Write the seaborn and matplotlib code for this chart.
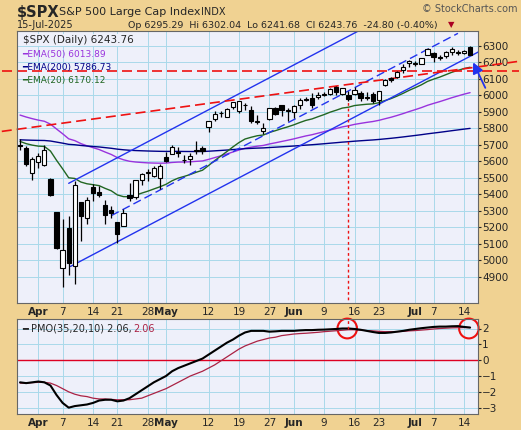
import matplotlib
matplotlib.use("Agg")
import matplotlib.pyplot as plt
import seaborn as sns
import pandas as pd
import numpy as np
from matplotlib.patches import Ellipse

dates = ["03-27","03-28","03-31","04-01","04-02","04-03","04-04","04-07","04-08","04-09","04-10","04-11",
 "04-14","04-15","04-16","04-17","04-21","04-22","04-23","04-24","04-25","04-28","04-29","04-30",
 "05-01","05-02","05-05","05-06","05-07","05-08","05-09","05-12","05-13","05-14","05-15","05-16",
 "05-19","05-20","05-21","05-22","05-23","05-27","05-28","05-29","05-30",
 "06-02","06-03","06-04","06-05","06-06","06-09","06-10","06-11","06-12","06-13","06-16","06-17","06-18","06-20",
 "06-23","06-24","06-25","06-26","06-27","06-30",
 "07-01","07-02","07-03","07-07","07-08","07-09","07-10","07-11","07-14","07-15"]
opens = [5695,5679,5527,5598,5580,5492,5292,4953,5194,4966,5353,5256,5441,5411,5335,5306,5232,5207,5395,5381,5489,
 5529,5508,5499,5625,5646,5656,5605,5614,5663,5679,5807,5854,5891,5869,5930,5903,5944,5910,5841,5782,5855,5925,5939,5904,
 5897,5939,5979,5985,5987,6004,6010,6050,6010,6000,6005,6013,5987,6005,5970,6062,6105,6109,6151,6193,
 6188,6191,6244,6259,6233,6237,6260,6255,6255,6295]
highs = [5732,5690,5627,5650,5696,5500,5292,5247,5267,5481,5353,5381,5459,5450,5367,5329,5232,5309,5469,5489,5528,
 5553,5572,5581,5659,5700,5684,5638,5651,5721,5691,5845,5906,5906,5924,5959,5968,5953,5938,5878,5829,5922,5930,5943,5922,
 5940,5982,5990,6016,6017,6021,6043,6059,6045,6026,6051,6024,6018,6019,6028,6101,6108,6145,6187,6215,
 6210,6227,6285,6262,6242,6266,6290,6272,6273,6302]
lows = [5670,5572,5489,5558,5574,5390,5069,4835,4910,4857,5116,5220,5358,5386,5221,5255,5101,5207,5356,5371,5455,
 5483,5506,5433,5597,5644,5628,5588,5578,5641,5644,5775,5846,5871,5867,5914,5895,5910,5830,5825,5767,5848,5880,5875,5844,
 5862,5919,5966,5921,5980,5994,6000,6002,6003,5963,6004,5968,5971,5953,5944,6055,6080,6102,6133,6174,
 6177,6187,6244,6201,6215,6229,6247,6245,6250,6242]
closes = [5693,5581,5612,5633,5671,5397,5074,5062,4982,5457,5268,5363,5406,5396,5276,5283,5158,5287,5376,5485,5525,
 5529,5561,5569,5604,5686,5650,5607,5631,5664,5660,5844,5886,5892,5917,5958,5964,5940,5845,5842,5802,5922,5889,5912,5912,
 5936,5970,5971,5939,6000,6006,6038,6022,6045,5977,6033,5982,5981,5967,6025,6092,6092,6141,6173,6205,
 6198,6227,6279,6230,6226,6263,6280,6260,6269,6244]
pmo = [-1.4,-1.45,-1.4,-1.35,-1.4,-1.6,-2.2,-2.7,-3.0,-2.9,-2.85,-2.8,-2.7,-2.55,-2.5,-2.5,-2.6,-2.55,-2.4,-2.15,-1.9,
 -1.65,-1.4,-1.2,-1.0,-0.7,-0.5,-0.35,-0.2,-0.05,0.1,0.35,0.6,0.85,1.1,1.3,1.55,1.75,1.85,1.85,1.85,1.8,1.82,1.85,1.85,
 1.85,1.88,1.9,1.9,1.92,1.93,1.95,1.97,2.0,2.0,1.97,1.92,1.85,1.78,1.72,1.72,1.75,1.8,1.85,1.92,
 1.97,2.02,2.06,2.1,2.12,2.12,2.14,2.15,2.1,2.06]
pmo_sig = [-1.45,-1.45,-1.42,-1.4,-1.4,-1.45,-1.6,-1.8,-2.0,-2.15,-2.25,-2.3,-2.4,-2.45,-2.45,-2.48,-2.5,-2.5,-2.5,-2.45,-2.4,
 -2.25,-2.1,-1.95,-1.8,-1.6,-1.4,-1.2,-1.0,-0.85,-0.7,-0.5,-0.3,-0.05,0.2,0.45,0.7,0.9,1.05,1.2,1.3,1.4,1.45,1.55,1.6,
 1.65,1.68,1.7,1.73,1.76,1.8,1.83,1.86,1.89,1.92,1.92,1.9,1.87,1.85,1.82,1.8,1.8,1.8,1.82,1.85,
 1.87,1.9,1.93,1.97,2.0,2.02,2.04,2.05,2.06,2.06]
tick_pos = [3,7,12,16,21,24,31,36,41,45,50,55,59,65,68,73]
tick_lab = ["Apr","7","14","21","28","May","12","19","27","Jun","9","16","23","Jul","7","14"]
bold_lab = {"Apr","May","Jun","Jul"}

df = pd.DataFrame({"i": np.arange(len(dates)), "o": opens, "h": highs, "l": lows, "c": closes,
                   "pmo": pmo, "sig": pmo_sig})
df["ema20"] = pd.Series([5720] + closes[1:]).ewm(span=20, adjust=False).mean()
df["ema50"] = pd.Series([5880] + closes[1:]).ewm(span=50, adjust=False).mean()
df["ema200"] = pd.Series([5730] + closes[1:]).ewm(span=200, adjust=False).mean()

sns.set_style("white")
plt.rcParams['font.family'] = ['DejaVu Sans']
BG = "#F0D292"; PANEL = "#EEF0FA"; GRID = "#A9D9EA"
fig = plt.figure(figsize=(5.21, 4.30), dpi=100, facecolor=BG)
W, H = 521, 430
ax = fig.add_axes([17/W, 1-303/H, (478-17)/W, (303-31)/H], facecolor=PANEL)
ax2 = fig.add_axes([17/W, 1-414/H, (478-17)/W, (414-319)/H], facecolor=PANEL)
XL = (-0.5, 75.3)

for a in (ax, ax2):
    a.set_xlim(*XL)
    a.set_xticks(tick_pos)
    a.set_xticklabels(tick_lab, fontsize=7.5)
    for t in a.get_xticklabels():
        if t.get_text() in bold_lab:
            t.set_fontweight("bold")
    a.grid(True, color=GRID, lw=0.7)
    a.yaxis.tick_right()
    a.tick_params(axis="both", length=2, pad=1, labelsize=7.5)
    for s in a.spines.values():
        s.set_color("#666666")

# candles
ax.vlines(df.i, df.l, df.h, color="black", lw=0.9, zorder=3)
up = df.c >= df.o
body = (df.c - df.o).abs().clip(lower=3)
ax.bar(df.i[up], body[up], bottom=df.o[up], width=0.7, color="white", edgecolor="black", lw=0.8, zorder=4)
ax.bar(df.i[~up], body[~up], bottom=df.c[~up], width=0.7, color="black", edgecolor="black", lw=0.8, zorder=4)

sns.lineplot(data=df, x="i", y="ema50", ax=ax, color="#9933DD", lw=1, zorder=2)
sns.lineplot(data=df, x="i", y="ema200", ax=ax, color="#000088", lw=1, zorder=2)
sns.lineplot(data=df, x="i", y="ema20", ax=ax, color="#226622", lw=1, zorder=2)

# annotation lines
ax.plot([8.3, 76], [4962, 4962 + 19.4*(76-8.3)], color="#2233EE", lw=1, zorder=2)
ax.plot([8, 57], [5466, 5466 + 19.4*49], color="#2233EE", lw=1, zorder=2)
ax.plot([15, 72], [5270, 5270 + 19.4*57], color="#2233EE", lw=1, ls=(0, (6, 3)), zorder=2)
ax.plot([-3, 82], [6149, 6149], color="#EE1111", lw=1.2, ls=(0, (6, 3)), clip_on=False, zorder=2)
ax.plot([-3, 82], [5781, 5781 + 5.0*85], color="#EE1111", lw=1.2, ls=(0, (6, 3)), clip_on=False, zorder=2)
ax.plot([54, 54], [5990, 4740], color="#EE1111", lw=1, ls=(0, (2, 2)), zorder=2)
ax.annotate("", xy=(74.3, 6215), xytext=(76.7, 6030), annotation_clip=False,
            arrowprops=dict(arrowstyle="-|>", color="#2233EE", lw=1.3, mutation_scale=16))

ax.set_ylim(4740, 6390)
ax.set_yticks(range(4900, 6301, 100))
ax.set_xlabel(""); ax.set_ylabel("")

ax.text(0.012, 0.985, "$SPX (Daily) 6243.76", transform=ax.transAxes, fontsize=7.5, va="top",
        bbox=dict(facecolor=PANEL, edgecolor="none", pad=0.5))
ax.text(0.012, 0.93, "━EMA(50) 6013.89", transform=ax.transAxes, fontsize=6.5, va="top", color="#9933DD")
ax.text(0.012, 0.883, "━EMA(200) 5786.73", transform=ax.transAxes, fontsize=6.5, va="top", color="#000088")
ax.text(0.012, 0.836, "━EMA(20) 6170.12", transform=ax.transAxes, fontsize=6.5, va="top", color="#226622")

# PMO
ax2.axhline(0, color="#DD0022", lw=1)
sns.lineplot(data=df, x="i", y="sig", ax=ax2, color="#AA2244", lw=0.9)
sns.lineplot(data=df, x="i", y="pmo", ax=ax2, color="black", lw=1.5)
ax2.plot([54, 54], [2.0, 2.6], color="#EE1111", lw=1, ls=(0, (2, 2)))
ax2.set_ylim(-3.4, 2.6)
ax2.set_yticks([-3, -2, -1, 0, 1, 2])
ax2.set_xlabel(""); ax2.set_ylabel("")
for cx in (53.8, 73.8):
    ax2.add_patch(Ellipse((cx, 2.0), 3.2, 1.25, fill=False, edgecolor="#EE1111", lw=1.5, clip_on=False))
ax2.text(0.012, 0.95, "━ PMO(35,20,10) 2.06,", transform=ax2.transAxes, fontsize=7, va="top")
ax2.text(0.252, 0.95, "2.06", transform=ax2.transAxes, fontsize=7, va="top", color="#AA2244")

fig.text(17/W, 1-12/H, "$SPX", fontsize=10.5, fontweight="bold", va="center")
fig.text(59/W, 1-12/H, "S&P 500 Large Cap Index", fontsize=8, va="center")
fig.text(201/W, 1-12/H, "INDX", fontsize=7, va="center")
fig.text(17/W, 1-25/H, "15-Jul-2025", fontsize=7, va="center")
fig.text(128/W, 1-25/H, "Op 6295.29  Hi 6302.04  Lo 6241.68  Cl 6243.76  -24.80 (-0.40%)",
         fontsize=6.8, va="center")
fig.text(517/W, 1-9/H, "© StockCharts.com", fontsize=7, va="center", ha="right", color="#555555")
fig.text(448/W, 1-25/H, "▼", fontsize=6, va="center", ha="left", color="#AA0022")

fig.savefig("out.png", dpi=100, facecolor=BG)
